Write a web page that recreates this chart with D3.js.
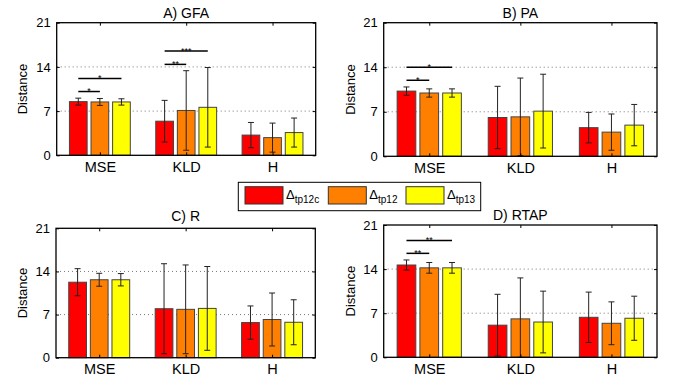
<!DOCTYPE html>
<html><head><meta charset="utf-8">
<script src="https://cdn.jsdelivr.net/npm/d3@7"></script>
<style>
body{margin:0;background:#fff;}
text{font-family:"Liberation Sans",Arial,sans-serif;fill:#000;}
</style></head>
<body><svg id="chart" width="678" height="381"></svg>
<script>
// ---------- data ----------
const categories = ["MSE", "KLD", "H"];
const seriesNames = ["tp12c", "tp12", "tp13"];
const seriesColors = ["#ff0000", "#ff8000", "#ffff00"];
const yTicks = [0, 7, 14, 21];
const panelTitles = ["A) GFA", "B) PA", "C) R", "D) RTAP"];

// means [series][category]
const gfaMean = [[8.5, 5.4, 3.2], [8.45, 7.1, 2.8], [8.45, 7.6, 3.6]];
const gfaErr  = [[0.55, 3.3, 2.0], [0.55, 6.3, 2.3], [0.5, 6.3, 2.3]];
const paMean  = [[10.25, 6.1, 4.5], [9.95, 6.2, 3.8], [9.95, 7.1, 4.9]];
const paErr   = [[0.65, 4.9, 2.4], [0.65, 6.1, 2.85], [0.65, 5.8, 3.25]];
const rMean   = [[12.25, 7.95, 5.7], [12.65, 7.85, 6.2], [12.65, 8.0, 5.75]];
const rErr    = [[2.2, 7.3, 2.7], [1.05, 7.2, 4.3], [1.0, 6.8, 3.65]];
const rtapMean = [[14.65, 5.1, 6.35], [14.2, 6.1, 5.4], [14.2, 5.6, 6.2]];
const rtapErr  = [[0.8, 4.9, 4.0], [0.85, 6.5, 3.4], [0.85, 4.9, 3.5]];

// significance brackets: [category index, from series, to series, height (data units), label]
const gfaSig  = [[0, 0, 1, 10.1, "*"], [0, 0, 2, 12.15, "*"], [1, 0, 1, 14.4, "**"], [1, 0, 2, 16.5, "***"]];
const paSig   = [[0, 0, 1, 11.95, "*"], [0, 0, 2, 14.0, "*"]];
const rSig    = [];
const rtapSig = [[0, 0, 1, 16.5, "**"], [0, 0, 2, 18.55, "**"]];

const panelMeans = [gfaMean, paMean, rMean, rtapMean];
const panelErrs = [gfaErr, paErr, rErr, rtapErr];
const panelSigs = [gfaSig, paSig, rSig, rtapSig];

// ---------- layout ----------
const layouts = [
  {x0: 56.7, x1: 315.7, yT: 22.7, yB: 155.3, labX: 22.5, titleY: 18},
  {x0: 383.7, x1: 657, yT: 22.7, yB: 156.3, labX: 350.5, titleY: 18.3},
  {x0: 56, x1: 315.3, yT: 228.3, yB: 357.7, labX: 22.5, titleY: 221.4},
  {x0: 383.7, x1: 657, yT: 225, yB: 357.3, labX: 350.5, titleY: 219.7}
];
const pitch = 0.25, barW = 0.205;
const FONT = "Liberation Sans, Arial, sans-serif";

const svg = d3.select("#chart");

layouts.forEach((L, p) => {
  const g = svg.append("g");
  const x = d3.scaleLinear().domain([0.5, 3.5]).range([L.x0, L.x1]);
  const y = d3.scaleLinear().domain([0, 21]).range([L.yB, L.yT]);
  const means = panelMeans[p], errs = panelErrs[p];

  // grid
  g.selectAll(".grid").data(yTicks.filter(t => t > 0 && t < 21)).enter().append("line")
    .attr("x1", L.x0).attr("x2", L.x1)
    .attr("y1", d => y(d)).attr("y2", d => y(d))
    .attr("stroke", "#555").attr("stroke-width", 0.8).attr("stroke-dasharray", "1,3");

  // bars
  const flat = [];
  means.forEach((row, s) => row.forEach((v, c) => flat.push({s, c, v, e: errs[s][c]})));
  g.selectAll(".bar").data(flat).enter().append("rect")
    .attr("x", d => x(d.c + 1 + (d.s - 1) * pitch - barW / 2))
    .attr("width", d => x(d.c + 1 + (d.s - 1) * pitch + barW / 2) - x(d.c + 1 + (d.s - 1) * pitch - barW / 2))
    .attr("y", d => y(d.v))
    .attr("height", d => y(0) - y(d.v))
    .attr("fill", d => seriesColors[d.s])
    .attr("stroke", "#444").attr("stroke-width", 1);

  // error bars
  const eb = g.selectAll(".eb").data(flat).enter().append("g");
  const cx = d => x(d.c + 1 + (d.s - 1) * pitch);
  eb.append("line").attr("x1", cx).attr("x2", cx)
    .attr("y1", d => y(Math.max(0, d.v - d.e))).attr("y2", d => y(d.v + d.e))
    .attr("stroke", "#222").attr("stroke-width", 1);
  eb.append("line").attr("x1", d => cx(d) - 3).attr("x2", d => cx(d) + 3)
    .attr("y1", d => y(d.v + d.e)).attr("y2", d => y(d.v + d.e))
    .attr("stroke", "#222").attr("stroke-width", 1);
  eb.append("line").attr("x1", d => cx(d) - 3).attr("x2", d => cx(d) + 3)
    .attr("y1", d => y(Math.max(0, d.v - d.e))).attr("y2", d => y(Math.max(0, d.v - d.e)))
    .attr("stroke", "#222").attr("stroke-width", 1);

  // significance
  const sg = g.selectAll(".sig").data(panelSigs[p]).enter().append("g");
  sg.append("line")
    .attr("x1", d => x(d[0] + 1 + (d[1] - 1) * pitch))
    .attr("x2", d => x(d[0] + 1 + (d[2] - 1) * pitch))
    .attr("y1", d => y(d[3])).attr("y2", d => y(d[3]))
    .attr("stroke", "#000").attr("stroke-width", 1.5);
  sg.append("text")
    .attr("x", d => (x(d[0] + 1 + (d[1] - 1) * pitch) + x(d[0] + 1 + (d[2] - 1) * pitch)) / 2)
    .attr("y", d => y(d[3]) + 2.5)
    .attr("text-anchor", "middle").attr("font-size", 9).text(d => d[4]);

  // axes frame
  g.append("rect").attr("x", L.x0).attr("y", L.yT).attr("width", L.x1 - L.x0).attr("height", L.yB - L.yT)
    .attr("fill", "none").attr("stroke", "#000").attr("stroke-width", 1.3);

  // y axis
  const yAx = g.append("g").attr("transform", `translate(${L.x0},0)`)
    .call(d3.axisLeft(y).tickValues(yTicks).tickSize(-3).tickPadding(6));
  yAx.select(".domain").remove();
  yAx.selectAll("text").attr("font-size", 13).attr("font-family", FONT);
  const yAxR = g.append("g").attr("transform", `translate(${L.x1},0)`)
    .call(d3.axisRight(y).tickValues(yTicks).tickSize(-3).tickFormat(""));
  yAxR.select(".domain").remove();

  // x axis
  const xAx = g.append("g").attr("transform", `translate(0,${L.yB})`)
    .call(d3.axisBottom(x).tickValues([1, 2, 3]).tickFormat(d => categories[d - 1]).tickSize(-3).tickPadding(6.5));
  xAx.select(".domain").remove();
  xAx.selectAll("text").attr("font-size", 14.5).attr("font-family", FONT);
  const xAxT = g.append("g").attr("transform", `translate(0,${L.yT})`)
    .call(d3.axisTop(x).tickValues([1, 2, 3]).tickSize(-3).tickFormat(""));
  xAxT.select(".domain").remove();

  // labels
  g.append("text").attr("x", (L.x0 + L.x1) / 2).attr("y", L.titleY)
    .attr("text-anchor", "middle").attr("font-size", 14).text(panelTitles[p]);
  g.append("text").attr("transform", `translate(${L.labX},${(L.yT + L.yB) / 2}) rotate(-90)`)
    .attr("text-anchor", "middle").attr("dy", "0.35em").attr("font-size", 13).text("Distance");
});

// ---------- legend ----------
const leg = svg.append("g");
leg.append("rect").attr("x", 238.3).attr("y", 182.3).attr("width", 242.4).attr("height", 28.4)
  .attr("fill", "#fff").attr("stroke", "#000").attr("stroke-width", 1);
const legX = [245, 328.3, 406];
seriesNames.forEach((n, i) => {
  leg.append("rect").attr("x", legX[i]).attr("y", 186.7).attr("width", 38).attr("height", 17.3)
    .attr("fill", seriesColors[i]).attr("stroke", "#333").attr("stroke-width", 1);
  const t = leg.append("text").attr("x", legX[i] + 41).attr("y", 198.5).attr("font-size", 13);
  t.append("tspan").text("\u0394");
  t.append("tspan").attr("dy", 4.5).attr("font-size", 10).text(n);
});
</script></body></html>
